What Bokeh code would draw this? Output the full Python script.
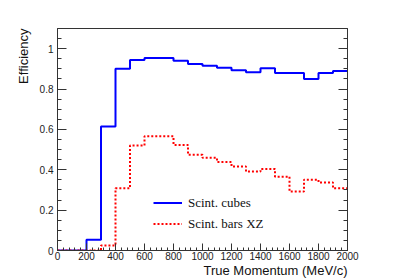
from bokeh.plotting import figure
from bokeh.models import Range1d, FixedTicker, LinearAxis, Legend, LegendItem, Title
from bokeh.embed import file_html
from bokeh.resources import INLINE

# Momentum bin edges (MeV/c)
bin_edges = [0, 100, 200, 300, 400, 500, 600, 700, 800, 900, 1000,
             1100, 1200, 1300, 1400, 1500, 1600, 1700, 1800, 1900, 2000]
# Efficiency per bin
eff_cubes = [0.0, 0.0, 0.053, 0.615, 0.900, 0.944, 0.954, 0.954, 0.940, 0.924,
             0.916, 0.906, 0.893, 0.883, 0.903, 0.880, 0.880, 0.850, 0.880, 0.890]
eff_bars_xz = [0.0, 0.0, 0.0, 0.025, 0.308, 0.520, 0.566, 0.566, 0.523, 0.474,
               0.459, 0.438, 0.416, 0.391, 0.404, 0.366, 0.292, 0.351, 0.337, 0.308]
x_ticks = [0, 200, 400, 600, 800, 1000, 1200, 1400, 1600, 1800, 2000]
y_ticks = [0, 0.2, 0.4, 0.6, 0.8, 1.0]
x_title = "True Momentum (MeV/c)"
y_title = "Efficiency"

p = figure(width=409, height=278, output_backend="svg", toolbar_location=None,
           x_range=Range1d(0, 2000), y_range=Range1d(0, 1.1),
           min_border_left=57, min_border_right=62, min_border_top=28, min_border_bottom=28)
p.background_fill_color = "white"
p.border_fill_color = "white"
p.outline_line_color = "#333333"
p.outline_line_width = 1
p.xgrid.visible = False
p.ygrid.visible = False

font = "Liberation Sans"
x_minor = [i * 40 for i in range(51)]
y_minor = [i * 0.05 for i in range(23)]

xa = p.xaxis[0]
xa.ticker = FixedTicker(ticks=x_ticks, minor_ticks=x_minor)
ya = p.yaxis[0]
ya.ticker = FixedTicker(ticks=y_ticks, minor_ticks=y_minor)
for ax in (xa, ya):
    ax.major_tick_in = 9
    ax.major_tick_out = 0
    ax.minor_tick_in = 4
    ax.minor_tick_out = 0
    ax.axis_line_color = "#333333"
    ax.major_tick_line_color = "#333333"
    ax.minor_tick_line_color = "#333333"
    ax.major_label_text_font = font
    ax.major_label_text_font_size = "10px"
    ax.major_label_text_color = "#222222"
xa.major_label_standoff = 1
ya.major_label_standoff = 4
xa.major_tick_in = 7
xa.minor_tick_in = 3
ya.major_label_overrides = {0: "0", 1: "1"}

ra = LinearAxis(ticker=FixedTicker(ticks=y_ticks, minor_ticks=y_minor))
ra.major_tick_in = 9
ra.major_tick_out = 0
ra.minor_tick_in = 4
ra.minor_tick_out = 0
ra.axis_line_color = "#333333"
ra.major_tick_line_color = "#333333"
ra.minor_tick_line_color = "#333333"
ra.major_label_text_color = None
ra.major_label_text_font_size = "1px"
p.add_layout(ra, "right")

xs = list(bin_edges)
y_c = list(eff_cubes) + [eff_cubes[-1]]
y_r = list(eff_bars_xz) + [eff_bars_xz[-1]]

r_c = p.step(xs, y_c, mode="after", line_color="#0000ff", line_width=2)
r_r = p.step(xs, y_r, mode="after", line_color="#ff0000", line_width=2, line_dash="2 2")

legend = Legend(items=[LegendItem(label="Scint. cubes", renderers=[r_c]),
                       LegendItem(label="Scint. bars XZ", renderers=[r_r])],
                location=(96, 16), orientation="vertical")
legend.border_line_color = None
legend.background_fill_alpha = 0
legend.padding = 0
legend.margin = 0
legend.spacing = 0
legend.glyph_width = 29
legend.glyph_height = 21
legend.label_height = 21
legend.label_standoff = 6
legend.label_text_font = "Liberation Serif"
legend.label_text_font_size = "13px"
legend.label_text_color = "#111111"
p.add_layout(legend, "center")

xt = Title(text=x_title, align="right", text_font=font, text_font_size="13px",
           text_font_style="normal", text_color="#111111", standoff=-3, offset=0)
yt = Title(text=y_title, align="right", text_font=font, text_font_size="13px",
           text_font_style="normal", text_color="#111111", standoff=12, offset=0)
p.add_layout(xt, "below")
p.add_layout(yt, "left")

open("out.html", "w").write(file_html(p, INLINE))
